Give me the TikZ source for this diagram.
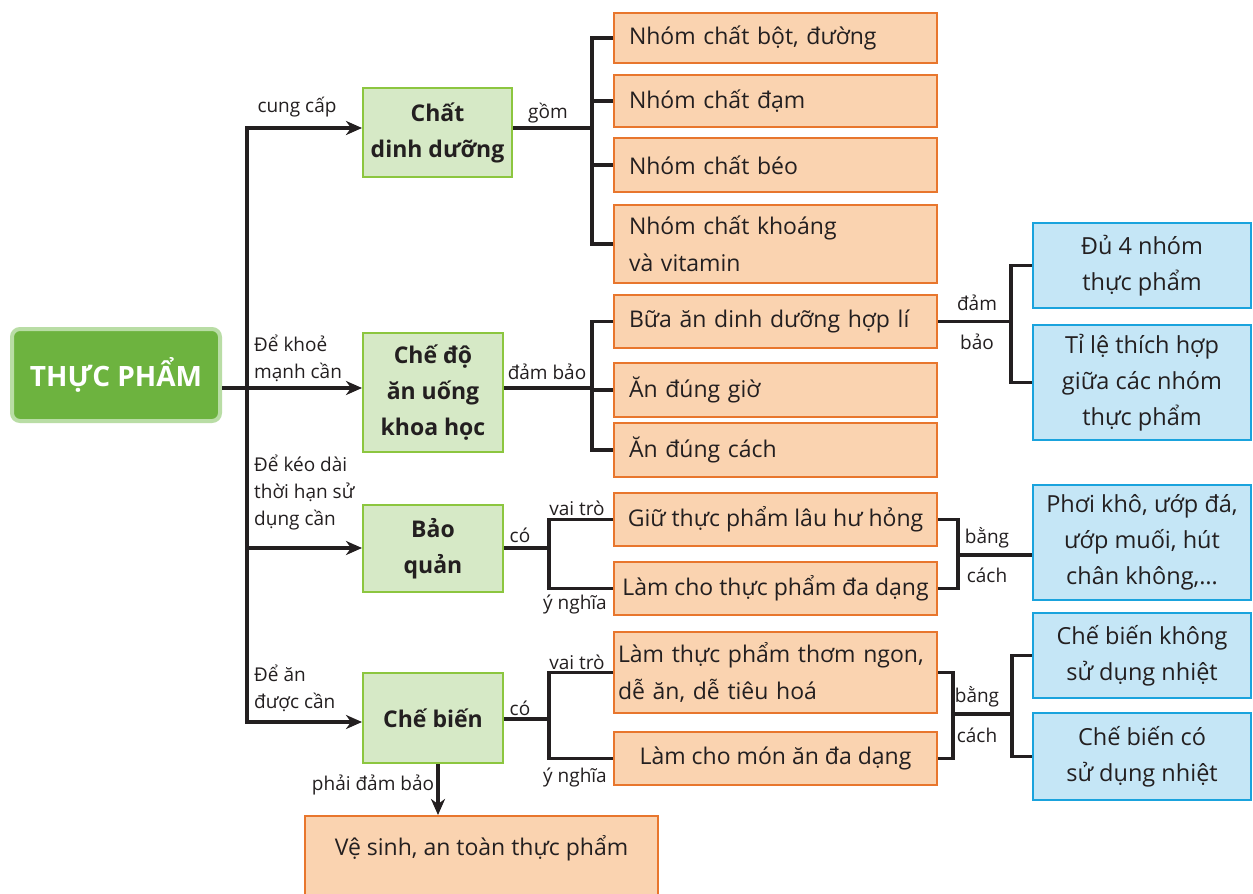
\documentclass[tikz,border=0pt]{standalone}
\usepackage{fontspec}
\setmainfont{Open Sans}
\usetikzlibrary{arrows.meta}
\definecolor{ink}{HTML}{231F20}
\definecolor{tpgreen}{HTML}{6DB33F}
\definecolor{tplight}{HTML}{B9DDA5}
\definecolor{gF}{HTML}{D6E9C6}
\definecolor{gB}{HTML}{8CC63F}
\definecolor{oF}{HTML}{FAD3B0}
\definecolor{oB}{HTML}{E8762D}
\definecolor{bF}{HTML}{C5E6F6}
\definecolor{bB}{HTML}{1AA3DD}
\tikzset{
  ln/.style={draw=ink, line width=3.2pt},
  arr/.style={ln, -{Stealth[length=16pt,width=14pt,inset=5pt]}},
  dblarr/.style={ln, {Stealth[length=16pt,width=14pt,inset=5pt]}-{Stealth[length=16pt,width=14pt,inset=5pt]}},
  mainbox/.style={fill=tpgreen, draw=tplight, line width=4pt, rounded corners=8pt,
    minimum width=208pt, minimum height=92pt, text=white,
    font=\bfseries\fontsize{28}{30}\selectfont},
  gbox/.style={draw=gB, fill=gF, line width=2pt, align=center, text=ink, inner sep=0pt,
    font=\bfseries\fontsize{23}{36}\selectfont},
  obox/.style={draw=oB, fill=oF, line width=2pt, minimum width=323pt, inner ysep=0pt, text=ink,
    font=\fontsize{23}{37}\selectfont},
  oleft/.style={obox, text width=293pt, inner xsep=15pt, align=left},
  ocenter/.style={obox, inner xsep=0pt, align=center},
  bbox/.style={draw=bB, fill=bF, line width=2pt, minimum width=218pt, inner sep=0pt, align=center, text=ink,
    font=\fontsize{23.5}{36}\selectfont},
  lab/.style={text=ink, inner sep=0pt, font=\fontsize{19}{27}\selectfont},
}
\begin{document}
\begin{tikzpicture}[x=1pt,y=-1pt]
\useasboundingbox[fill=white] (0,0) rectangle (1253,894);
\clip (0,0) rectangle (1253,894);

% main
\node[mainbox] (tp) at (116,375) {THỰC PHẨM};

% green boxes
\node[gbox, minimum width=149pt, minimum height=89pt] (g1) at (437.5,132.5) {Chất\\dinh dưỡng};
\node[gbox, minimum width=140pt, minimum height=119pt] (g2) at (433,392.5) {Chế độ\\ăn uống\\khoa học};
\node[gbox, minimum width=140pt, minimum height=87pt] (g3) at (433,548.5) {Bảo\\quản};
\node[gbox, minimum width=140pt, minimum height=90pt] (g4) at (433,718) {Chế biến};

% orange boxes
\node[oleft, minimum height=50pt] (o1) at (775.5,38) {Nhóm chất bột, đường};
\node[oleft, minimum height=52pt] (o2) at (775.5,101) {Nhóm chất đạm};
\node[oleft, minimum height=54pt] (o3) at (775.5,165) {Nhóm chất béo};
\node[oleft, minimum height=78pt] (o4) at (775.5,244) {Nhóm chất khoáng\\và vitamin};
\node[oleft, minimum height=53pt] (o5) at (775.5,321.5) {Bữa ăn dinh dưỡng hợp lí};
\node[oleft, minimum height=54pt] (o6) at (775.5,390) {Ăn đúng giờ};
\node[oleft, minimum height=54pt] (o7) at (775.5,450) {Ăn đúng cách};
\node[ocenter, minimum height=53pt] (o8) at (775.5,519.5) {Giữ thực phẩm lâu hư hỏng};
\node[ocenter, minimum height=53pt] (o9) at (775.5,588.5) {Làm cho thực phẩm đa dạng};
\node[obox, text width=315pt, inner xsep=4pt, align=left, minimum height=81pt] (o10) at (775.5,672.5) {Làm thực phẩm thơm ngon,\\dễ ăn, dễ tiêu hoá};
\node[ocenter, minimum height=53pt] (o11) at (775.5,758.5) {Làm cho món ăn đa dạng};
\node[obox, minimum width=353pt, inner xsep=0pt, anchor=north, text height=39pt, text depth=46pt] (o12) at (481.5,815) {Vệ sinh, an toàn thực phẩm};

% blue boxes
\node[bbox, minimum height=85pt] (b1) at (1142,265.5) {Đủ 4 nhóm\\thực phẩm};
\node[bbox, minimum height=115pt] (b2) at (1142,382.5) {Tỉ lệ thích hợp\\giữa các nhóm\\thực phẩm};
\node[bbox, minimum height=115pt] (b3) at (1142,542.5) {Phơi khô, ướp đá,\\ướp muối, hút\\chân không,\ldots};
\node[bbox, minimum height=85pt] (b4) at (1142,655.5) {Chế biến không\\sử dụng nhiệt};
\node[bbox, minimum height=87pt] (b5) at (1142,756.5) {Chế biến có\\sử dụng nhiệt};

% trunk
\coordinate (ta) at (247,128);
\coordinate (tb) at (247,388);
\coordinate (tc) at (247,548);
\coordinate (td) at (247,722);
\draw[dblarr] (g1.west |- ta) -- (ta) -- (td) -- (g4.west |- td);
\draw[ln] (tp.east |- tb) -- (tb);
\draw[arr] (tb) -- (g2.west |- tb);
\draw[arr] (tc) -- (g3.west |- tc);

% left brackets
\coordinate (ja) at (593,128);
\draw[ln] (g1.east |- ja) -- (ja);
\draw[ln] (o1.west) -- ++(-21,0) |- (o4.west);
\draw[ln] (o2.west) -- ++(-21,0);
\draw[ln] (o3.west) -- ++(-21,0);

\coordinate (jb) at (593,388);
\draw[ln] (g2.east |- jb) -- (jb);
\draw[ln] (o5.west) -- ++(-21,0) |- (o7.west);
\draw[ln] (o6.west) -- ++(-21,0);

\coordinate (jc) at (550,548);
\draw[ln] (g3.east |- jc) -- (jc);
\draw[ln] (o8.west) -- ++(-64,0) |- (o9.west);

\coordinate (jd) at (550,719);
\draw[ln] (g4.east |- jd) -- (jd);
\draw[ln] (o10.west) -- ++(-64,0) |- (o11.west);

% right brackets
\draw[ln] (o5.east) -- ++(75,0);
\draw[ln] (b1.west) -- ++(-21,0) |- (b2.west);

\draw[ln] (o8.east) -- ++(20,0) |- (o9.east);
\coordinate (jf) at (957,555);
\draw[ln] (jf) -- (jf -| b3.west);

\draw[ln] (o10.east) -- ++(15,0) |- (o11.east);
\coordinate (jg) at (952,714);
\draw[ln] (jg) -- ++(61,0);
\draw[ln] (b4.west) -- ++(-20,0) |- (b5.west);

% down arrow
\draw[arr] ([xshift=5pt]g4.south) -- ([xshift=5pt]g4.south |- o12.north);

% labels
\node[lab] (l1) at (297,107) {cung cấp};
\node[lab] (l2) at (548,113) {gồm};
\node[lab, anchor=west, align=left] (l3) at (254,358.5) {Để khoẻ\\mạnh cần};
\node[lab] (l4) at (547,372) {đảm bảo};
\node[lab, anchor=west, align=left] (l5) at (254,493) {Để kéo dài\\thời hạn sử\\dụng cần};
\node[lab] (l6) at (520,535) {có};
\node[lab] (l7) at (577,508) {vai trò};
\node[lab] (l8) at (575,604) {ý nghĩa};
\node[lab, anchor=west, align=left] (l9) at (254,688) {Để ăn\\được cần};
\node[lab] (l10) at (520,708) {có};
\node[lab] (l11) at (577,662) {vai trò};
\node[lab] (l12) at (575,777) {ý nghĩa};
\node[lab] (l13) at (373,785) {phải đảm bảo};
\node[lab] (l14) at (977,303) {đảm};
\node[lab] (l15) at (977,342) {bảo};
\node[lab] (l16) at (987,538) {bằng};
\node[lab] (l17) at (987,575) {cách};
\node[lab] (l18) at (977,697) {bằng};
\node[lab] (l19) at (977,735) {cách};
\end{tikzpicture}
\end{document}
